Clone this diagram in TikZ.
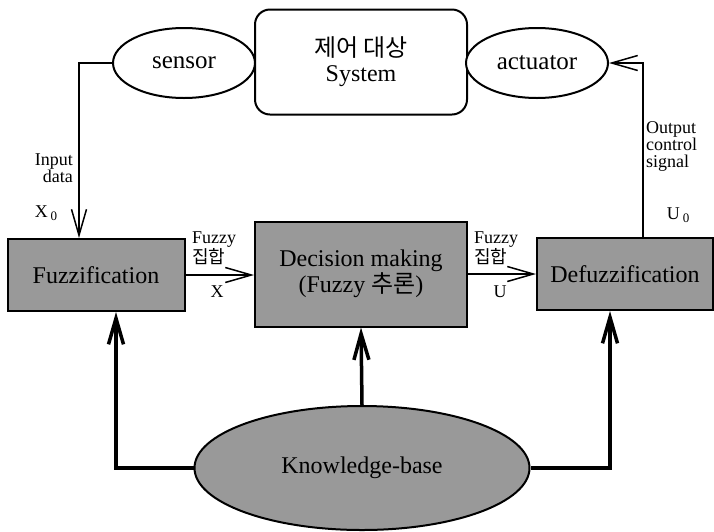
\documentclass[tikz,border=0pt]{standalone}
\usepackage{fontspec}
\setmainfont{Liberation Serif}
\newfontfamily\kr{Noto Sans CJK KR}
\usepackage{tikz}
\usetikzlibrary{positioning, shapes, arrows.meta, calc}
\definecolor{shade}{gray}{0.6}
\tikzstyle{blk}=[%
      rectangle, draw=black, line width=2pt, fill=shade,
      minimum height=72pt, minimum width=177pt, inner sep=0pt, align=center,
      font=\fontsize{24}{25}\selectfont
]
\tikzstyle{sys}=[%
      rectangle, rounded corners=15pt, draw=black, line width=2pt, fill=white,
      minimum height=105pt, minimum width=212pt, inner sep=0pt, align=center,
      font=\fontsize{24}{25}\selectfont
]
\tikzstyle{dev}=[%
      ellipse, draw=black, line width=2pt, fill=white,
      minimum height=70pt, minimum width=142pt, inner sep=0pt,
      font=\fontsize{25}{25}\selectfont
]
\tikzstyle{lbl}=[%
      inner sep=0pt, align=left, font=\fontsize{18}{17}\selectfont
]
\tikzstyle{thin}=[line width=1.5pt, ->]
\tikzstyle{fat}=[line width=3.5pt, ->]

\begin{document}
\begin{tikzpicture}[x=1pt, y=-1pt,
    >={Straight Barb[length=26pt,width=15pt]}
  ]
    \useasboundingbox (0,0) rectangle (714,531);

    % plant loop
    \node[dev]  (sensor)   at (184,63)  {sensor};
    \node[sys]  (plant)    at (361,62)  {{\kr 제어 대상}\\System};
    \node[dev]  (act)      at (537,63)  {actuator};

    % fuzzy controller
    \node[blk]  (fuzz)     at (96,275)  {Fuzzification};
    \node[blk, minimum width=212pt, minimum height=105pt] (dec) at (361,274)
                {Decision making\\(Fuzzy {\kr 추론})};
    \node[blk, minimum width=176pt] (defuzz) at (625,274) {Defuzzification};
    \node[blk, ellipse, minimum width=335pt, minimum height=124pt] (kb) at (362,468)
                {Knowledge-base};

    \coordinate (inp)  at ($(fuzz.north)+(-17,0)$);
    \coordinate (outp) at ($(defuzz.north)+(18,0)$);
    \coordinate (kbl)  at ($(fuzz.south)+(20,0)$);
    \coordinate (kbr)  at ($(defuzz.south)+(-15,0)$);

    \draw[thin] (sensor.west) -| (inp);
    \draw[thin] (outp) |- (act.east);
    \draw[thin] (fuzz.east) -- (fuzz.east -| dec.west);
    \draw[thin] (dec.east |- defuzz.west) -- (defuzz.west);

    \draw[fat] (kb.west) -| (kbl);
    \draw[fat] (kb.north) -- (dec.south);
    \draw[fat] (kb.east) -| (kbr);

    % labels
    \node[lbl, align=right, anchor=east] (inlbl)  at (73,168)  {Input\\data};
    \node[lbl] (x0)     at (46,213)  {X\,\raisebox{-3pt}{\fontsize{13}{13}\selectfont 0}};
    \node[lbl, anchor=west] (outlbl) at (646,146) {Output\\control\\signal};
    \node[lbl] (u0)     at (678,215) {U\,\raisebox{-3pt}{\fontsize{13}{13}\selectfont 0}};
    \node[lbl, anchor=west] (set1) at (192,248) {Fuzzy\\{\kr 집합}};
    \node[lbl] (xl)     at (217,292) {X};
    \node[lbl, anchor=west] (set2) at (474,248) {Fuzzy\\{\kr 집합}};
    \node[lbl] (ul)     at (500,292) {U};

  \end{tikzpicture}
\end{document}
